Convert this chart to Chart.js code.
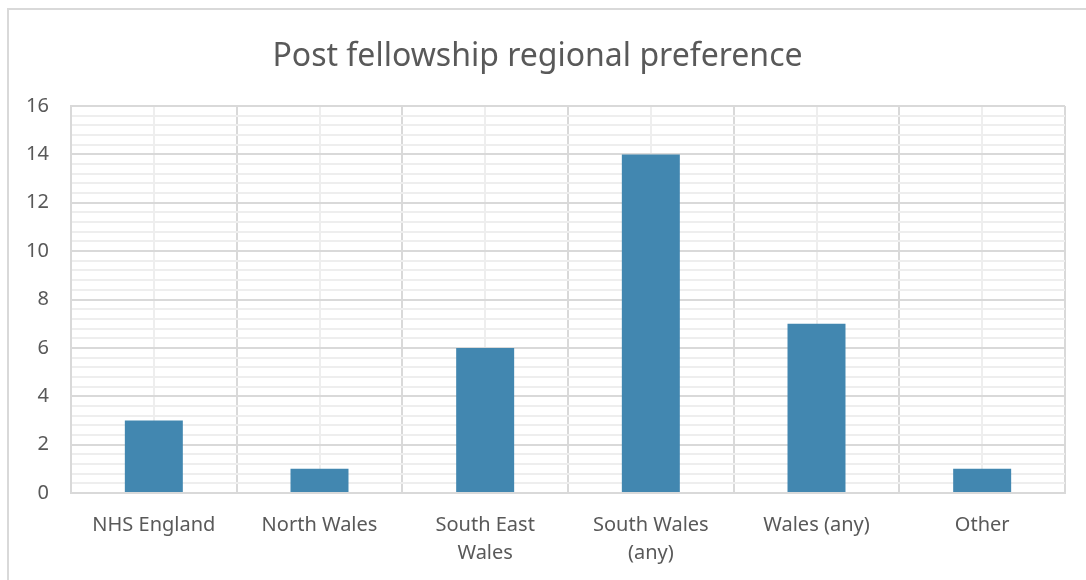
<!DOCTYPE html>
<html>
<head>
<meta charset="utf-8">
<script src="https://cdn.jsdelivr.net/npm/chart.js@4/dist/chart.umd.min.js"></script>
<style>
  body { margin: 0; background: #fff; }
  #frame { position: absolute; left: 7px; top: 8px; width: 1100px; height: 600px;
           border-left: 2px solid #d9d9d9; border-top: 2px solid #d9d9d9; }
  #wrap { position: absolute; left: 0; top: 0; width: 1086px; height: 580px; }
</style>
</head>
<body>
<div id="frame"></div>
<div id="wrap"><canvas id="prefChart"></canvas></div>
<script>
// Data
const categories = ["NHS England", "North Wales", ["South East", "Wales"], ["South Wales", "(any)"], "Wales (any)", "Other"];
const counts = [3, 1, 6, 14, 7, 1];
const yTicks = [0, 2, 4, 6, 8, 10, 12, 14, 16];

const textColor = "#595959";
const majorGrid = "#d9d9d9";
const minorGrid = "#eeeeee";

function isMajor(v) {
  return yTicks.some(function (t) { return Math.abs(t - v) < 1e-6; });
}

new Chart("prefChart", {
  type: "bar",
  data: {
    labels: categories,
    datasets: [
      {
        label: "Count",
        data: counts,
        backgroundColor: "#4287b0",
        borderWidth: 0,
        barPercentage: 0.35,
        categoryPercentage: 1,
      },
    ],
  },
  options: {
    responsive: true,
    maintainAspectRatio: false,
    animation: false,
    layout: { padding: { left: 10, right: 21, top: 30, bottom: 0 } },
    plugins: {
      legend: { display: false },
      tooltip: { enabled: false },
      title: {
        display: true,
        text: "Post fellowship regional preference",
        color: textColor,
        font: { family: "Noto Sans", size: 32, weight: "normal" },
        padding: { top: 8, bottom: 29.6 },
      },
    },
    scales: {
      x: {
        grid: { color: majorGrid, lineWidth: 2, offset: true, drawTicks: false },
        border: { color: majorGrid, width: 2 },
        ticks: {
          color: textColor,
          font: { family: "Noto Sans", size: 20, lineHeight: 1.42 },
          padding: 18,
          maxRotation: 0,
          autoSkip: false,
        },
        afterFit: function (scale) { scale.height = 87; },
      },
      x2: {
        type: "category",
        position: "top",
        grid: { color: minorGrid, lineWidth: 2, offset: false, drawTicks: false },
        border: { display: false },
        ticks: { display: false },
        afterFit: function (scale) { scale.height = 0; },
      },
      y: {
        min: 0,
        max: 16,
        ticks: {
          stepSize: 0.4,
          autoSkip: false,
          color: textColor,
          font: { family: "Noto Sans", size: 20 },
          padding: 22,
          callback: function (v) { return isMajor(v) ? Math.round(v) : ""; },
        },
        grid: {
          drawTicks: false,
          lineWidth: 2,
          color: function (ctx) { return isMajor(ctx.tick.value) ? majorGrid : minorGrid; },
        },
        border: { color: majorGrid, width: 2 },
        afterFit: function (scale) { scale.width = 61; },
      },
    },
  },
});
</script>
</body>
</html>
